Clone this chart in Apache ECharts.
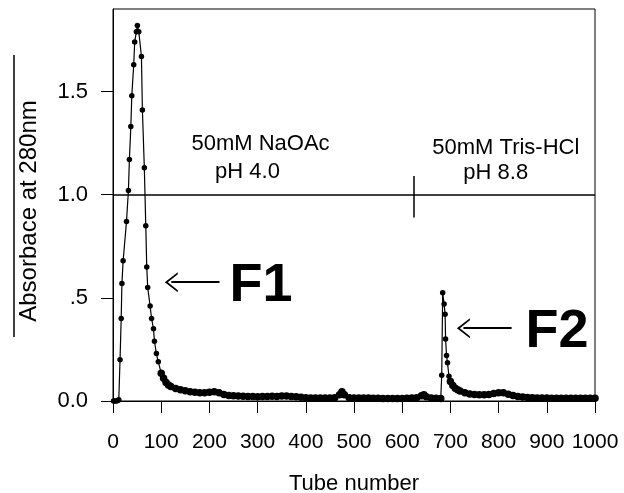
<!DOCTYPE html>
<html>
<head>
<meta charset="utf-8">
<script src="https://cdn.jsdelivr.net/npm/echarts@6/dist/echarts.min.js"></script>
<style>
  html, body { margin: 0; padding: 0; background: #fff; }
  #chart { width: 624px; height: 493px; }
</style>
</head>
<body>
<div id="chart"></div>
<script>
// F1 peak (NaOAc pH 4.0), sparse points
var f1Tubes = [1, 4, 7, 10, 12, 14.6, 17, 18.5, 21, 28, 32, 34, 37, 39, 43, 45, 48.5, 50.6,
               53.5, 59, 61, 65, 68, 70, 72, 77, 80, 84, 86, 90, 94];
var f1Abs   = [0, 0, 0, 0.003, 0.006, 0.20, 0.40, 0.57, 0.68, 0.87, 1.02, 1.17, 1.33, 1.48, 1.63, 1.74, 1.79, 1.82,
               1.79, 1.67, 1.41, 1.13, 0.85, 0.65, 0.55, 0.46, 0.40, 0.35, 0.29, 0.23, 0.19];

// tail after F1 and baseline up to the buffer change
var baseTubes = [100, 105, 110, 115, 120, 130, 140, 150, 160, 170, 180, 190, 200, 210, 220, 230, 240, 250,
                 260, 270, 280, 290, 300, 310, 320, 330, 340, 350, 360, 370, 380, 390, 400, 410, 420, 430,
                 440, 450, 460, 470, 475, 480, 490, 500, 510, 520, 530, 540, 550, 560, 570, 580, 590, 600,
                 610, 620, 630, 640, 645, 650, 660, 670, 680];
var baseAbs   = [0.135, 0.11, 0.09, 0.078, 0.07, 0.06, 0.055, 0.05, 0.045, 0.042, 0.04, 0.04, 0.042, 0.045, 0.04, 0.032, 0.027, 0.025,
                 0.024, 0.023, 0.022, 0.022, 0.021, 0.022, 0.022, 0.023, 0.022, 0.024, 0.024, 0.022, 0.02, 0.018, 0.016, 0.015, 0.014, 0.014,
                 0.015, 0.015, 0.016, 0.03, 0.045, 0.03, 0.016, 0.015, 0.015, 0.014, 0.014, 0.013, 0.013, 0.012, 0.012, 0.012, 0.012, 0.012,
                 0.013, 0.014, 0.016, 0.025, 0.03, 0.02, 0.014, 0.013, 0.012];

// F2 peak (Tris-HCl pH 8.8), sparse points
var f2Tubes = [682, 684, 687, 689, 690, 692, 694, 697];
var f2Abs   = [0.125, 0.525, 0.47, 0.42, 0.30, 0.22, 0.185, 0.12];

// tail after F2
var tailTubes = [700, 705, 710, 715, 720, 730, 740, 750, 760, 770, 780, 790, 800, 810, 820, 830, 840, 850,
                 860, 870, 880, 890, 900, 910, 920, 930, 940, 950, 960, 970, 980, 990, 1000];
var tailAbs   = [0.095, 0.075, 0.062, 0.055, 0.048, 0.04, 0.034, 0.031, 0.03, 0.03, 0.032, 0.036, 0.04, 0.04, 0.033, 0.027, 0.022, 0.019,
                 0.017, 0.016, 0.015, 0.014, 0.014, 0.013, 0.013, 0.013, 0.013, 0.013, 0.013, 0.013, 0.013, 0.013, 0.013];

var yTickValues = [0, 0.5, 1.0, 1.5];
var yTickLabels = ['0.0', '.5', '1.0', '1.5'];

var tubes = f1Tubes.concat(baseTubes, f2Tubes, tailTubes);
var absorbance = f1Abs.concat(baseAbs, f2Abs, tailAbs);
var points = tubes.map(function (t, i) { return [t, absorbance[i]]; });

// sparse (peak) points get a smaller dot, dense runs merge into a thick band
var sparse = [].concat(
  f1Tubes.map(function () { return true; }),
  baseTubes.map(function () { return false; }),
  f2Tubes.map(function () { return true; }),
  tailTubes.map(function () { return false; })
);

var FONT = 'Liberation Sans, Arial, sans-serif';
var INK = '#000';
// open arrow head, pointing up (rotated by markLine)
var CHEVRON = 'path://M0,13 L10,0 L20,13 L18,13 L10,3 L2,13 Z';

var myChart = echarts.init(document.getElementById('chart'));
var option = {
  animation: false,
  backgroundColor: '#fff',
  grid: {
    left: 113, right: 29, top: 9, bottom: 92,
    outerBoundsMode: 'none', containLabel: false,
    show: true, borderColor: '#000', borderWidth: 1
  },
  xAxis: {
    type: 'value', min: 0, max: 1000, interval: 100,
    name: 'Tube number', nameLocation: 'middle', nameGap: 72,
    nameTextStyle: { fontSize: 22, color: INK, fontFamily: FONT },
    axisLine: { lineStyle: { color: '#000', width: 1 } },
    axisTick: { length: 12, lineStyle: { color: '#000' } },
    axisLabel: {
      margin: 31, fontSize: 21, color: INK, fontFamily: FONT,
      formatter: function (v) { return String(v); }
    },
    splitLine: { show: false }
  },
  yAxis: {
    type: 'value', min: 0, max: 1.9, interval: 0.5,
    name: 'Absorbace at 280nm', nameLocation: 'middle', nameGap: 72,
    nameTextStyle: { fontSize: 24, color: INK, fontFamily: FONT, padding: [0, 12, 0, 0] },
    axisLine: { show: true, lineStyle: { color: '#000', width: 1 } },
    axisTick: { show: true, length: 12, customValues: yTickValues, lineStyle: { color: '#000' } },
    axisLabel: {
      margin: 25, fontSize: 22, color: INK, fontFamily: FONT,
      customValues: yTickValues,
      formatter: function (v) {
        var i = yTickValues.indexOf(v);
        return i >= 0 ? yTickLabels[i] : '';
      }
    },
    splitLine: { show: false }
  },
  // overline drawn above the rotated y axis title
  graphic: [{
    type: 'line', shape: { x1: 14, y1: 55, x2: 14, y2: 337 },
    style: { stroke: '#000', lineWidth: 1.5 }
  }],
  series: [{
    type: 'line',
    data: points,
    symbol: 'circle',
    symbolSize: function (val, params) { return sparse[params.dataIndex] ? 5.5 : 7.5; },
    showAllSymbol: true,
    itemStyle: { color: '#000' },
    lineStyle: { color: '#000', width: 1.2 },
    z: 3,
    markLine: {
      silent: true,
      animation: false,
      symbol: ['none', 'none'],
      label: { show: false },
      lineStyle: { color: '#000', width: 1.5, type: 'solid' },
      data: [
        { yAxis: 1.0 },
        [{ coord: [623, 0.89] }, { coord: [623, 1.09] }],
        [{ coord: [121, 0.576], symbol: CHEVRON, symbolSize: [20, 13], lineStyle: { width: 2 } },
         { coord: [221, 0.576], symbol: 'none' }],
        [{ coord: [727, 0.353], symbol: CHEVRON, symbolSize: [20, 13], lineStyle: { width: 2 } },
         { coord: [827, 0.353], symbol: 'none' }]
      ]
    }
  }, {
    type: 'scatter',
    symbolSize: 1,
    itemStyle: { color: 'rgba(0,0,0,0)', opacity: 1 },
    silent: true,
    z: 4,
    label: {
      show: true, position: 'inside', formatter: '{b}',
      fontSize: 22, color: INK, fontFamily: FONT, opacity: 1
    },
    data: [
      { name: '50mM NaOAc', value: [306, 1.248] },
      { name: 'pH 4.0', value: [279, 1.108] },
      { name: '50mM Tris-HCl', value: [815, 1.229] },
      { name: 'pH 8.8', value: [794, 1.103] },
      { name: 'F1', value: [307, 0.556], label: { fontSize: 54, fontWeight: 'bold' } },
      { name: 'F2', value: [921, 0.334], label: { fontSize: 54, fontWeight: 'bold' } }
    ]
  }]
};
myChart.setOption(option);
</script>
</body>
</html>
